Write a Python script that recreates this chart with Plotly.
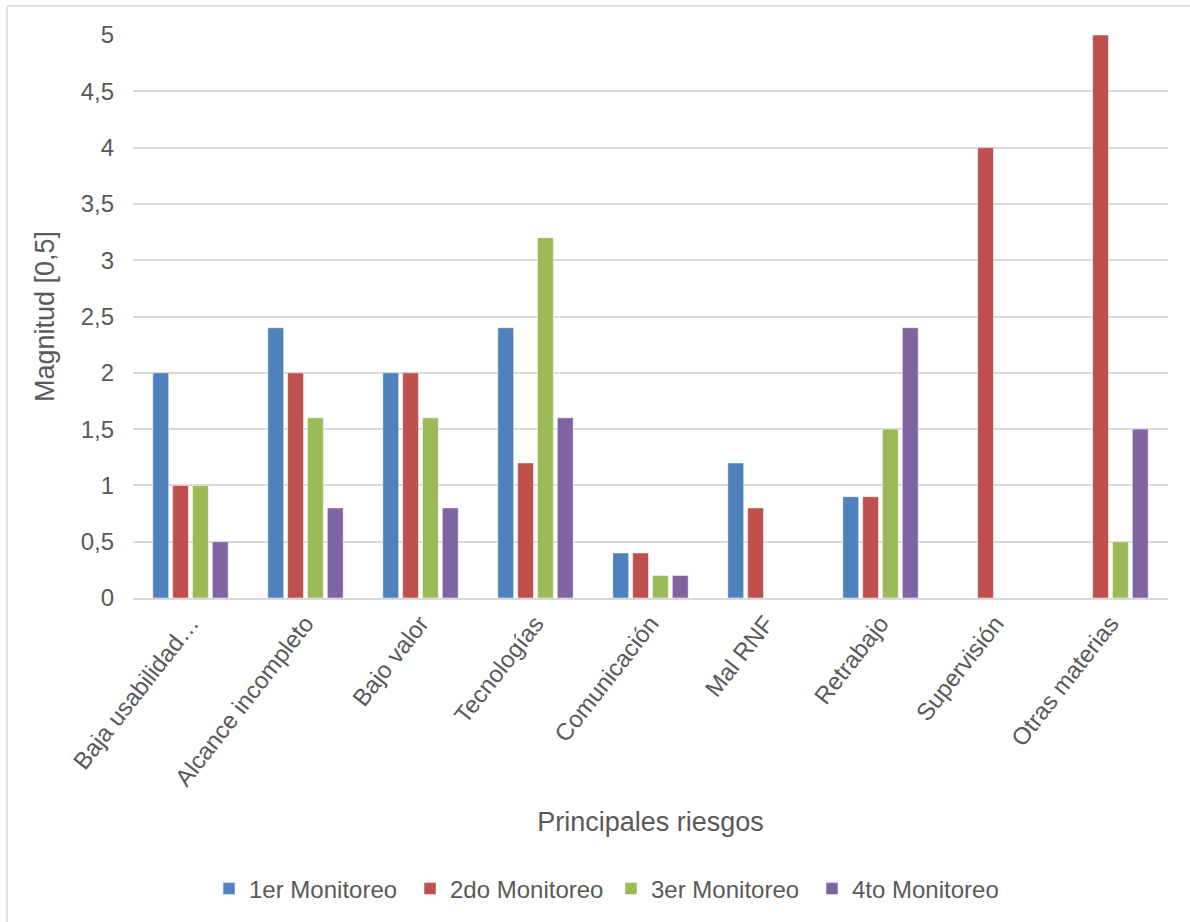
import plotly.graph_objects as go

# Risk categories and monitoring rounds
categories = [
    "Baja usabilidad…", "Alcance incompleto", "Bajo valor", "Tecnologías",
    "Comunicación", "Mal RNF", "Retrabajo", "Supervisión", "Otras materias",
]
monitoreo_1 = [2.0, 2.4, 2.0, 2.4, 0.4, 1.2, 0.9, None, None]
monitoreo_2 = [1.0, 2.0, 2.0, 1.2, 0.4, 0.8, 0.9, 4.0, 5.0]
monitoreo_3 = [1.0, 1.6, 1.6, 3.2, 0.2, None, 1.5, None, 0.5]
monitoreo_4 = [0.5, 0.8, 0.8, 1.6, 0.2, None, 2.4, None, 1.5]

series_names = ["1er Monitoreo", "2do Monitoreo", "3er Monitoreo", "4to Monitoreo"]
series_values = [monitoreo_1, monitoreo_2, monitoreo_3, monitoreo_4]
series_colors = ["#4F81BD", "#C0504D", "#9BBB59", "#8064A2"]

y_tick_values = [0, 0.5, 1, 1.5, 2, 2.5, 3, 3.5, 4, 4.5, 5]
y_tick_labels = ["0", "0,5", "1", "1,5", "2", "2,5", "3", "3,5", "4", "4,5", "5"]

FONT = "Liberation Sans, Arial, sans-serif"
TEXT = "#595959"
GRID = "#D9D9D9"

fig = go.Figure()
for name, vals, col in zip(series_names, series_values, series_colors):
    fig.add_trace(go.Bar(
        x=categories, y=vals, name=name,
        marker=dict(color=col, line=dict(color="rgba(255,255,255,0.5)", width=1)),
    ))

W, H = 1190, 922
L, R, T, B = 133, 22, 35, 323
pw, ph = W - L - R, H - T - B

def px_x(p):
    return (p - L) / pw

def px_y(p):
    return (H - B - p) / ph

fig.update_layout(
    width=W, height=H,
    margin=dict(l=L, r=R, t=T, b=B),
    paper_bgcolor="white", plot_bgcolor="white",
    barmode="group", bargap=0.31, bargroupgap=0.2,
    separators=",.",
    font=dict(family=FONT, color=TEXT, size=24),
    showlegend=True,
    legend=dict(
        orientation="h", x=px_x(611), xanchor="center",
        y=px_y(889), yanchor="middle",
        font=dict(family=FONT, color=TEXT, size=24),
        entrywidth=156, itemwidth=30,
        traceorder="normal",
    ),
    xaxis=dict(
        tickangle=-52, tickfont=dict(size=24, color=TEXT, family=FONT),
        showline=True, linecolor=GRID, linewidth=1.5,
        showgrid=False, ticks="",
        title=dict(text="Principales riesgos", font=dict(size=27, color=TEXT, family=FONT),
                   standoff=22),
    ),
    yaxis=dict(
        range=[0, 5], tickvals=y_tick_values, ticktext=y_tick_labels,
        tickfont=dict(size=24, color=TEXT, family=FONT),
        showgrid=True, gridcolor=GRID, gridwidth=1.5,
        zeroline=False, showline=False, ticks="",
        ticklabelstandoff=18,
        title=dict(text="Magnitud [0,5]", font=dict(size=27, color=TEXT, family=FONT),
                   standoff=18),
    ),
    shapes=[dict(
        type="rect", xref="paper", yref="paper",
        x0=px_x(7), x1=px_x(1200), y0=px_y(935), y1=px_y(6),
        line=dict(color=GRID, width=1.5), fillcolor="rgba(0,0,0,0)", layer="below",
    )],
)

fig.write_html("out.html")
